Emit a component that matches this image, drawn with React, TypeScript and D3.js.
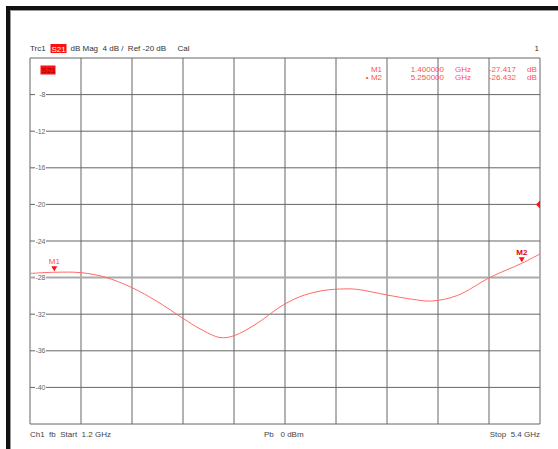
import React from "react";
import * as d3 from "d3";

// Trace S21, dB magnitude vs frequency (GHz)
const freqGHz = [1.2, 1.4, 1.62, 1.818, 2.04, 2.246, 2.46, 2.6, 2.765, 2.88, 3.07, 3.26, 3.42, 3.59, 3.75, 3.89, 4.14, 4.35, 4.51, 4.72, 4.99, 5.25, 5.4];
const s21dB = [-27.55, -27.417, -27.46, -27.95, -29.1, -30.6, -32.45, -33.6, -34.55, -34.35, -33.0, -31.2, -30.1, -29.47, -29.25, -29.28, -29.9, -30.37, -30.56, -29.95, -27.97, -26.432, -25.42];

const yTicks = [-8, -12, -16, -20, -24, -28, -32, -36, -40];
const yTop = -4;
const yBottom = -44;
const refLevel = -20;
const startGHz = 1.2;
const stopGHz = 5.4;

const markerNames = ["M1", "M2"];
const markerFreqs = [1.4, 5.25];
const markerValues = [-27.417, -26.432];

const W = 558;
const H = 449;
const plot = { left: 30, right: 540, top: 58, bottom: 424 };

export default function App() {
  const x = d3.scaleLinear().domain([startGHz, stopGHz]).range([plot.left, plot.right]);
  const y = d3.scaleLinear().domain([yTop, yBottom]).range([plot.top, plot.bottom]);

  const line = d3
    .line<number>()
    .x((_, i) => x(freqGHz[i]))
    .y((d) => y(d))
    .curve(d3.curveCatmullRom.alpha(0.5));

  const vLines = d3.range(0, 11).map((i) => startGHz + ((stopGHz - startGHz) * i) / 10);
  const hLines = d3.range(0, 11).map((i) => yTop - 4 * i);

  const font = "'Liberation Sans', Arial, sans-serif";
  const red = "#ff1010";
  const markerText = "#ff5050";

  return (
    <svg
      width={W}
      height={H}
      style={{ position: "absolute", left: 0, top: 0, background: "#fff" }}
      fontFamily={font}
    >
      {/* window frame */}
      <rect x={6} y={6} width={W - 6} height={4} fill="#111" />
      <rect x={6} y={6} width={4} height={H - 6} fill="#111" />
      <rect x={10} y={10} width={W - 10} height={1} fill="#999" />
      <rect x={10} y={10} width={1} height={H - 10} fill="#999" />

      {/* grid */}
      {vLines.map((f, i) => (
        <line key={"v" + i} x1={x(f)} x2={x(f)} y1={plot.top} y2={plot.bottom} stroke="#666" strokeWidth={1} />
      ))}
      {hLines.map((v, i) => (
        <line
          key={"h" + i}
          x1={plot.left}
          x2={plot.right}
          y1={y(v)}
          y2={y(v)}
          stroke={v === -28 ? "#aaa" : "#666"}
          strokeWidth={v === -28 ? 2 : 1}
        />
      ))}

      {/* y tick labels */}
      {yTicks.map((t) => (
        <g key={"t" + t}>
          <rect x={35} y={y(t) - 3.5} width={11} height={7} fill="#fff" />
          <text x={45.5} y={y(t) + 2.5} fontSize={7} fill="#666" textAnchor="end">
            {t}
          </text>
        </g>
      ))}

      {/* trace */}
      <path d={line(s21dB) || ""} fill="none" stroke="#ff6a6a" strokeWidth={1} />

      {/* reference level arrow */}
      <path
        d={`M${x(stopGHz)},${y(refLevel) - 4} L${x(stopGHz) - 4},${y(refLevel)} L${x(stopGHz)},${y(refLevel) + 4} Z`}
        fill={red}
      />

      {/* markers */}
      {markerNames.map((m, i) => {
        const mx = x(markerFreqs[i]);
        const my = y(markerValues[i]);
        return (
          <g key={m}>
            <path d={`M${mx - 3},${my - 6} L${mx + 3},${my - 6} L${mx},${my - 1} Z`} fill={red} />
            <text
              x={mx}
              y={my - 8}
              fontSize={8}
              textAnchor="middle"
              fill={i === 0 ? markerText : "#e00000"}
              fontWeight={i === 0 ? "normal" : "bold"}
            >
              {m}
            </text>
          </g>
        );
      })}

      {/* header */}
      <text x={30} y={51} fontSize={8} fill="#333">Trc1</text>
      <rect x={50.5} y={44} width={16} height={9} fill={red} />
      <text x={51.5} y={51.5} fontSize={8} fill="#fff">S21</text>
      <text x={70.5} y={51} fontSize={8} fill="#333" xmlSpace="preserve">
        dB Mag  4 dB /  Ref -20 dB
      </text>
      <text x={177.5} y={51} fontSize={8} fill="#333">Cal</text>
      <text x={539} y={51} fontSize={8} fill="#333" textAnchor="end">1</text>

      {/* trace label in plot */}
      <rect x={40.5} y={65.5} width={15} height={9} fill={red} />
      <text x={41.3} y={72.5} fontSize={8} fill="#a00000">S21</text>

      {/* marker table */}
      {markerNames.map((m, i) => {
        const ty = 71.5 + i * 8.5;
        return (
          <g key={"row" + m} fontSize={8} fill={markerText}>
            <text x={382} y={ty} textAnchor="end">{(i === 1 ? "\u2022 " : "") + m}</text>
            <text x={444} y={ty} textAnchor="end">{markerFreqs[i].toFixed(6)}</text>
            <text x={455} y={ty}>GHz</text>
            <text x={516} y={ty} textAnchor="end">{markerValues[i].toFixed(3)}</text>
            <text x={527} y={ty}>dB</text>
          </g>
        );
      })}

      {/* footer */}
      <text x={30} y={437} fontSize={8} fill="#444" xmlSpace="preserve">
        Ch1  fb  Start  1.2 GHz
      </text>
      <text x={264} y={437} fontSize={8} fill="#444" xmlSpace="preserve">
        Pb   0 dBm
      </text>
      <text x={540} y={437} fontSize={8} fill="#444" textAnchor="end" xmlSpace="preserve">
        Stop  5.4 GHz
      </text>
    </svg>
  );
}
